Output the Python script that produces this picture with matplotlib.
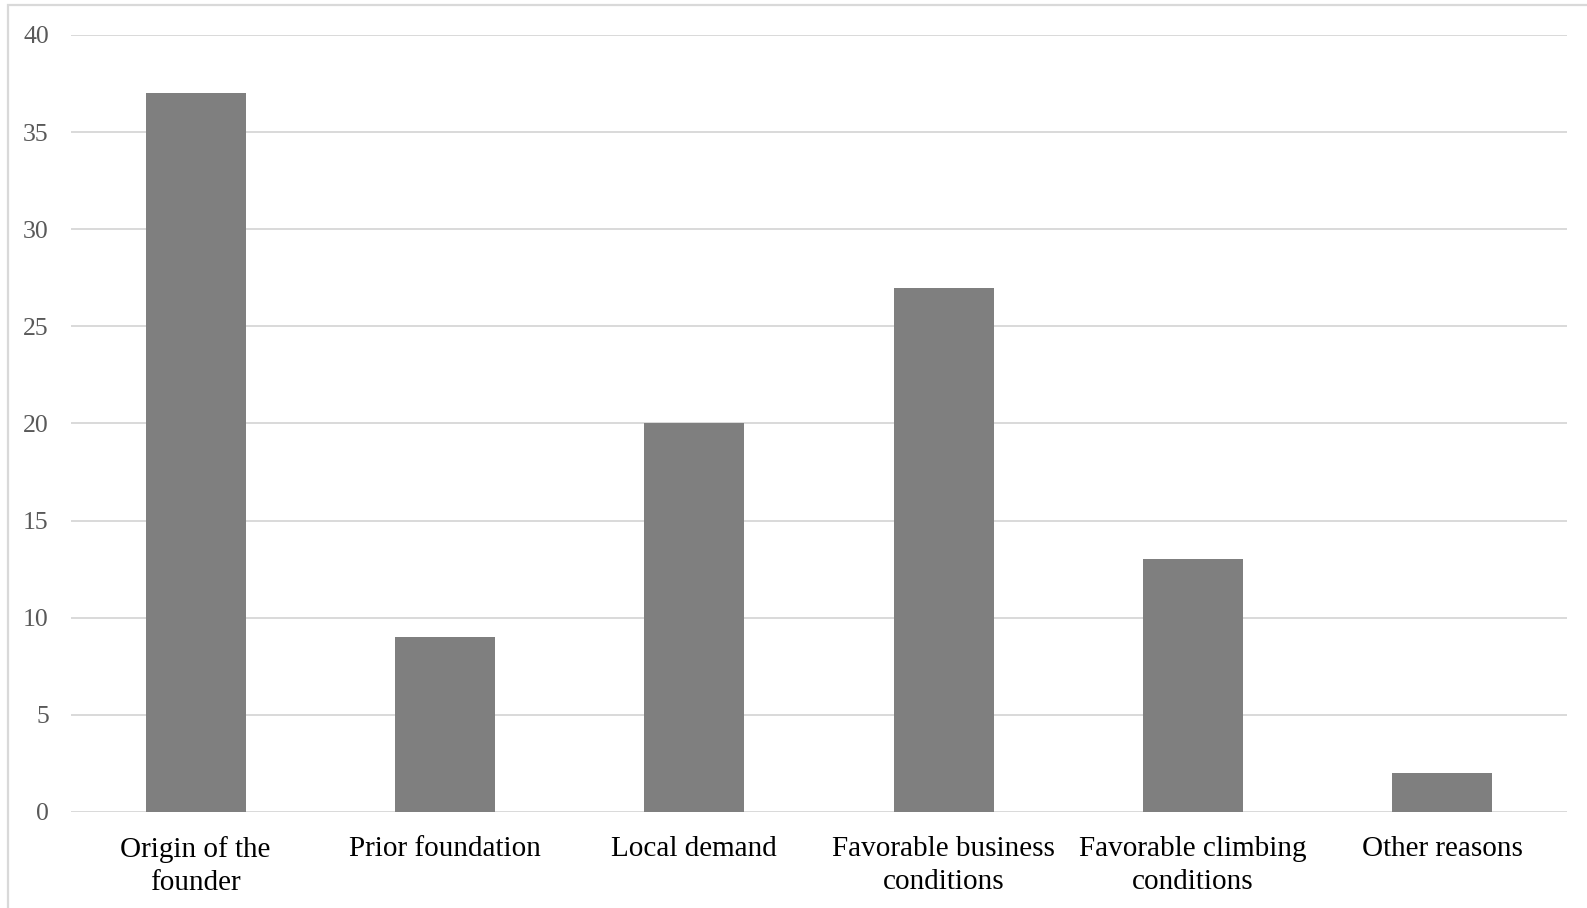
import numpy as np
import matplotlib.pyplot as plt
from matplotlib.patches import Rectangle

categories = ["Origin of the\nfounder", "Prior foundation", "Local demand",
              "Favorable business\nconditions", "Favorable climbing\nconditions",
              "Other reasons"]
values = [37, 9, 20, 27, 13, 2]
yticks = [0, 5, 10, 15, 20, 25, 30, 35, 40]

plt.rcParams['font.family'] = ['Liberation Serif', 'DejaVu Serif']

W, H = 1587, 908
fig = plt.figure(figsize=(W / 100, H / 100), dpi=100)
ax = fig.add_axes([71 / W, 1 - 812 / H, (1567 - 71) / W, (812 - 35) / H])

x = np.arange(len(categories))
ax.bar(x, values, width=0.4, color='#7f7f7f', zorder=3)

ax.set_xlim(-0.5, len(categories) - 0.5)
ax.set_ylim(0, 40)
ax.set_yticks(yticks)
ax.set_xticks(x)
ax.set_xticklabels(categories, fontsize=21, color='black', linespacing=1.35)
ax.tick_params(axis='y', length=0, pad=16, labelsize=18.5, labelcolor='#595959')
ax.tick_params(axis='x', length=0, pad=17)
ax.yaxis.grid(True, color='#d9d9d9', lw=1.4)
ax.set_axisbelow(True)
for s in ax.spines.values():
    s.set_visible(False)

# chart area border (cropped on the right and bottom in the original)
fig.patches.append(Rectangle((8 / W, -0.1), 1.2, 0.1 + 1 - 5.5 / H,
                             transform=fig.transFigure, fill=False,
                             edgecolor='#d9d9d9', lw=1.6))

fig.savefig('out.png', dpi=100)
